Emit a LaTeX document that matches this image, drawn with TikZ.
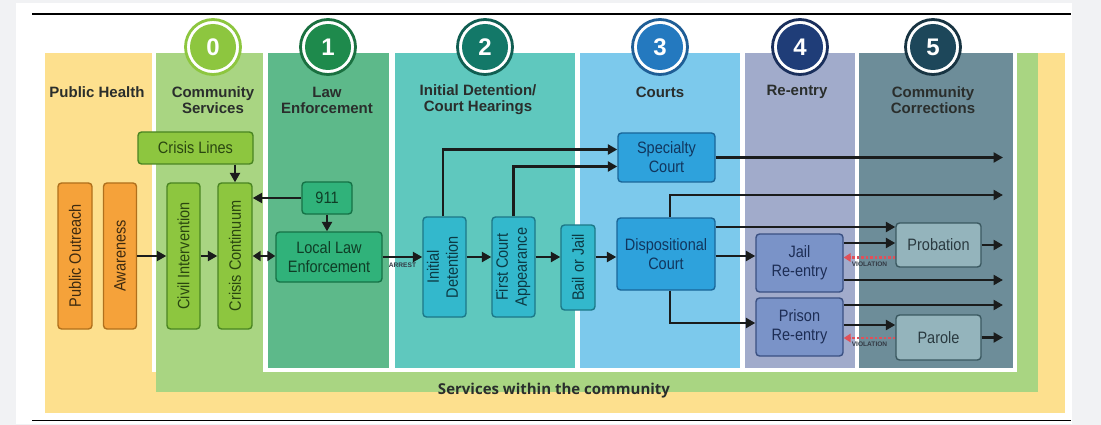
\documentclass[tikz,border=0pt]{standalone}
\usepackage{fontspec}
\setmainfont{Liberation Sans}
\newfontfamily\narrowfont[FakeStretch=0.88]{Liberation Sans}
\newfontfamily\bandfont{Open Sans}
\usetikzlibrary{arrows.meta,calc}
\definecolor{pagegrey}{HTML}{F1F2F4}
\definecolor{phyellow}{HTML}{FDE08E}
\definecolor{csgreen}{HTML}{A9D582}
\definecolor{lawcol}{HTML}{5DB98A}
\definecolor{detcol}{HTML}{5FC8BE}
\definecolor{courtcol}{HTML}{7CC9EC}
\definecolor{reencol}{HTML}{A1ABCB}
\definecolor{cccol}{HTML}{6D8D99}
\definecolor{orfill}{HTML}{F5A23A}
\definecolor{orline}{HTML}{B0701C}
\definecolor{ortext}{HTML}{3D2A10}
\definecolor{grfill}{HTML}{8DC63F}
\definecolor{grline}{HTML}{4A8522}
\definecolor{grtext}{HTML}{2A4610}
\definecolor{lwfill}{HTML}{30B27A}
\definecolor{lwline}{HTML}{157246}
\definecolor{lwtext}{HTML}{0F3D26}
\definecolor{dtfill}{HTML}{33B8CC}
\definecolor{dtline}{HTML}{1C7888}
\definecolor{dttext}{HTML}{0C3A44}
\definecolor{ctfill}{HTML}{2EA2DC}
\definecolor{ctline}{HTML}{1A6699}
\definecolor{cttext}{HTML}{11365E}
\definecolor{refill}{HTML}{7A93C8}
\definecolor{reline}{HTML}{3A5082}
\definecolor{retext}{HTML}{1D2D55}
\definecolor{ccfill}{HTML}{94B4BC}
\definecolor{ccline}{HTML}{3A5860}
\definecolor{cctext}{HTML}{2A3A40}
\definecolor{hdrtext}{HTML}{2A2E2C}
\definecolor{arrowcol}{HTML}{1A1C1C}
\definecolor{violred}{HTML}{E0505A}
\definecolor{tinytext}{HTML}{333A44}
\definecolor{cz0}{HTML}{8DC63F}
\definecolor{rz0}{HTML}{8DC63F}
\definecolor{cz1}{HTML}{1E8A4C}
\definecolor{rz1}{HTML}{1A7040}
\definecolor{cz2}{HTML}{137868}
\definecolor{rz2}{HTML}{105E52}
\definecolor{cz3}{HTML}{2479BF}
\definecolor{rz3}{HTML}{1F5E96}
\definecolor{cz4}{HTML}{1F3D78}
\definecolor{rz4}{HTML}{1A2F5C}
\definecolor{cz5}{HTML}{1D475A}
\definecolor{rz5}{HTML}{183442}
\begin{document}
\begin{tikzpicture}[x=1pt,y=-1pt,
  hdr/.style={font=\bfseries\fontsize{15}{16}\selectfont, text=hdrtext, align=center, inner sep=0pt},
  box/.style={draw, rounded corners=3.5pt, line width=1.4pt, inner sep=1pt, align=center,
    font=\narrowfont\fontsize{16.5}{19}\selectfont},
  orangebox/.style={box, fill=orfill, draw=orline, text=ortext},
  greenbox/.style={box, fill=grfill, draw=grline, text=grtext},
  lawbox/.style={box, fill=lwfill, draw=lwline, text=lwtext},
  detbox/.style={box, fill=dtfill, draw=dtline, text=dttext},
  courtbox/.style={box, fill=ctfill, draw=ctline, text=cttext},
  reenbox/.style={box, fill=refill, draw=reline, text=retext},
  ccbox/.style={box, fill=ccfill, draw=ccline, text=cctext},
  arr/.style={line width=2.9pt, draw=arrowcol, -{Triangle[length=9.5pt,width=10pt]}},
  dblarr/.style={line width=2.9pt, draw=arrowcol, {Triangle[length=8pt,width=10pt]}-{Triangle[length=8pt,width=10pt]}},
  viol/.style={line width=2.3pt, draw=violred, dash pattern=on 2.5pt off 2pt, -{Triangle[length=7pt,width=8.5pt]}},
  tiny/.style={font=\bfseries\fontsize{6.6}{7}\selectfont, text=tinytext, inner sep=1pt},
  stagenum/.style={circle, inner sep=0pt, minimum size=46pt, text=white, font=\bfseries\fontsize{24}{24}\selectfont},
]
\useasboundingbox (0,0) rectangle (1101,425);
\fill[pagegrey] (0,0) rectangle (1101,425);
\fill[white] (16,3) rectangle (1072,424);
\draw[line width=1.6pt, black] (32,14) -- (1071,14);
\draw[line width=1.6pt, black] (32,420.5) -- (1071,420.5);

% bands and columns
\fill[phyellow] (45,53) rectangle (1065,413);
\fill[csgreen] (156,53) rectangle (1038,392);
\fill[white] (263,53) rectangle (1017,372);
\fill[white] (152,53) rectangle (156,372);
\fill[lawcol] (268,53) rectangle (389,368);
\fill[detcol] (395,53) rectangle (575,368);
\fill[courtcol] (580,53) rectangle (740,368);
\fill[reencol] (745,53) rectangle (855,368);
\fill[cccol] (859,53) rectangle (1013,368);

% stage circles
\foreach \cx/\n in {213/0, 328/1, 485/2, 660/3, 800/4, 933/5}{
  \draw[draw=rz\n, line width=2.8pt, fill=white] (\cx,47) circle (27.5);
  \node[stagenum, fill=cz\n] (st\n) at (\cx,47) {\n};
}

% headers
\node[hdr] (hph) at (97,92) {Public Health};
\node[hdr] (hcs) at (213,100) {Community\\Services};
\node[hdr] (hle) at (327,100) {Law\\Enforcement};
\node[hdr] (hid) at (478,100) {Initial Detention/\\Court Hearings};
\node[hdr] (hct) at (660,92) {Courts};
\node[hdr] (hre) at (797,92) {Re-entry};
\node[hdr] (hcc) at (933,100) {Community\\Corrections};
\node[font=\bandfont\bfseries\fontsize{15}{16}\selectfont, text=hdrtext, inner sep=0pt] (swc) at (554,391) {Services within the community};

% boxes
\node[orangebox, minimum width=34, minimum height=146] (po) at (75,256) {\rotatebox{90}{Public Outreach}};
\node[orangebox, minimum width=33, minimum height=146] (aw) at (120,256) {\rotatebox{90}{Awareness}};
\node[greenbox, minimum width=33, minimum height=146] (ci) at (183.5,256) {\rotatebox{90}{Civil Intervention}};
\node[greenbox, minimum width=34, minimum height=146] (cc) at (235,256) {\rotatebox{90}{Crisis Continuum}};
\node[greenbox, minimum width=115, minimum height=32] (cl) at (195.5,148) {Crisis Lines};
\node[lawbox, minimum width=50, minimum height=32] (n911) at (327,198) {911};
\node[lawbox, minimum width=106, minimum height=50] (lle) at (329,257) {Local Law\\Enforcement};
\node[detbox, minimum width=43, minimum height=100] (id) at (444.5,267) {\rotatebox{90}{\begin{tabular}{@{}c@{}}Initial\\Detention\end{tabular}}};
\node[detbox, minimum width=43, minimum height=100] (fca) at (513.5,267) {\rotatebox{90}{\begin{tabular}{@{}c@{}}First Court\\Appearance\end{tabular}}};
\node[detbox, minimum width=34, minimum height=85] (bj) at (578,267.5) {\rotatebox{90}{Bail or Jail}};
\node[courtbox, minimum width=97, minimum height=49] (sc) at (666.5,157.5) {Specialty\\Court};
\node[courtbox, minimum width=98, minimum height=72] (dc) at (666,254) {Dispositional\\Court};
\node[reenbox, minimum width=87, minimum height=58] (jr) at (799.5,263) {Jail\\Re-entry};
\node[reenbox, minimum width=87, minimum height=58] (pr) at (799.5,327) {Prison\\Re-entry};
\node[ccbox, minimum width=85, minimum height=44] (prob) at (938.5,245) {Probation};
\node[ccbox, minimum width=85, minimum height=45] (parl) at (938.5,337.5) {Parole};

% helper coordinates
\coordinate (eR) at (1003,0);
\coordinate (yA) at (0,257);
\coordinate (yB) at (0,195);
\coordinate (yC) at (0,227);
\coordinate (yD) at (0,256);
\coordinate (yE) at (0,323);
\coordinate (yF) at (0,243);
\coordinate (yG) at (0,257.5);
\coordinate (yH) at (0,280);
\coordinate (yI) at (0,305);
\coordinate (yJ) at (0,325);
\coordinate (yK) at (0,338);

% connectors
\draw[arr] (aw.east) -- (ci.west);
\draw[arr] (ci.east) -- (cc.west);
\draw[dblarr] (cc.east) -- (cc.east -| lle.west);
\draw[arr] (cl.south -| cc.north) -- (cc.north);
\draw[arr] (n911.west) -- (n911.west -| cc.east);
\draw[arr] (n911.south) -- (n911.south |- lle.north);
\draw[arr] (lle.east |- yA) -- (id.west |- yA) node[tiny, midway, below=3pt] {ARREST};
\draw[arr] (id.east |- yA) -- (fca.west |- yA);
\draw[arr] (fca.east |- yA) -- (bj.west |- yA);
\draw[arr] (bj.east |- yA) -- (dc.west |- yA);
\draw[arr] ([xshift=-1.5pt]id.north) |- ([yshift=8pt]sc.west);
\draw[arr] (fca.north) |- ([yshift=-9pt]sc.west);
\draw[arr] (sc.east) -- (sc.east -| eR);
\draw[arr] ([xshift=4pt]dc.north) |- (eR |- yB);
\draw[arr] (dc.east |- yC) -- (prob.west |- yC);
\draw[arr] (dc.east |- yD) -- (jr.west |- yD);
\draw[arr] ([xshift=4pt]dc.south) |- (pr.west |- yE);
\draw[arr] (jr.east |- yF) -- (prob.west |- yF);
\draw[viol] (prob.west |- yG) -- (jr.east |- yG) node[tiny, midway, below=2pt] {VIOLATION};
\draw[arr] (jr.east |- yH) -- (eR |- yH);
\draw[arr] (pr.east |- yI) -- (eR |- yI);
\draw[arr] (pr.east |- yJ) -- (parl.west |- yJ);
\draw[viol] (parl.west |- yK) -- (pr.east |- yK) node[tiny, midway, below=2pt] {VIOLATION};
\draw[arr] (prob.east) -- (prob.east -| eR);
\draw[arr] (parl.east) -- (parl.east -| eR);
\end{tikzpicture}
\end{document}
